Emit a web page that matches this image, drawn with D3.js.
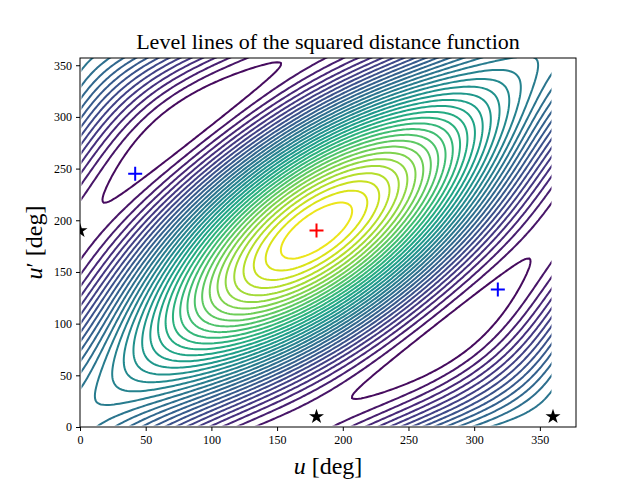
<!DOCTYPE html>
<html><head><meta charset="utf-8">
<script src="https://cdn.jsdelivr.net/npm/d3@7"></script>
<style>body{margin:0;background:#fff}text{font-family:"Liberation Serif","DejaVu Serif",serif}</style>
</head><body><svg id="c" width="640" height="480"></svg>
<script>
// model of the distance field: P cos(u-u'+10) - Q cos u - R cos(u'-10)
const coeffs = [1.0, 0.44, 0.44];
const maxPoint = [[180, 190]];
const minPoints = [[42, 245], [318, 133]];
const saddles = [[0, 190], [180, 10], [360, 10]];
const xTicks = [0, 50, 100, 150, 200, 250, 300, 350];
const yTicks = [0, 50, 100, 150, 200, 250, 300, 350];
const nLevels = 36;

const svg = d3.select("#c");
const L = 80, R = 576, T = 58, B = 427;
const x = d3.scaleLinear().domain([0, 377.5]).range([L, R]);
const y = d3.scaleLinear().domain([0, 357]).range([B, T]);

const step = 2, n = 360 / step + 1, rad = Math.PI / 180;
const vals = new Array(n * n);
for (let j = 0; j < n; j++) for (let i = 0; i < n; i++) {
  const u = i * step, v = j * step;
  vals[j * n + i] = coeffs[0] * Math.cos((u - v + 10) * rad) - coeffs[1] * Math.cos(u * rad) - coeffs[2] * Math.cos((v - 10) * rad);
}
const [lo, hi] = d3.extent(vals);
const thresholds = d3.range(1, nLevels).map(k => lo + (hi - lo) * k / nLevels);
const color = d3.scaleSequential(d3.interpolateViridis).domain([lo, hi]);
const contours = d3.contours().size([n, n]).thresholds(thresholds)(vals);

svg.append("clipPath").attr("id", "clip").append("rect")
  .attr("x", x(0) + 1.5).attr("y", y(360) + 1.5).attr("width", x(360) - x(0) - 3).attr("height", y(0) - y(360) - 3);
svg.append("clipPath").attr("id", "clip2").append("rect")
  .attr("x", L).attr("y", T).attr("width", R - L).attr("height", B - T);

const proj = d3.geoTransform({ point(px, py) {
  this.stream.point(x((px - 0.5) * step), y((py - 0.5) * step));
}});
const path = d3.geoPath(proj);
const g = svg.append("g").attr("clip-path", "url(#clip2)").append("g").attr("clip-path", "url(#clip)");
g.selectAll("path").data(contours).enter().append("path")
  .attr("d", path).attr("fill", "none").attr("stroke", d => color(d.value)).attr("stroke-width", 2);

const m = svg.append("g").attr("clip-path", "url(#clip2)");
const plus = (pts, c) => m.selectAll(null).data(pts).enter().append("path")
  .attr("d", d => `M${x(d[0]) - 7},${y(d[1])}h14M${x(d[0])},${y(d[1]) - 7}v14`)
  .attr("stroke", c).attr("stroke-width", 2);
plus(minPoints, "blue");
plus(maxPoint, "red");
m.selectAll(null).data(saddles).enter().append("path")
  .attr("d", d3.symbol(d3.symbolStar, 70)).attr("fill", "black")
  .attr("transform", d => `translate(${x(d[0])},${y(d[1])})`);

const ax = svg.append("g").attr("transform", `translate(0,${B})`)
  .call(d3.axisBottom(x).tickValues(xTicks).tickSize(4).tickPadding(4));
const ay = svg.append("g").attr("transform", `translate(${L},0)`)
  .call(d3.axisLeft(y).tickValues(yTicks).tickSize(4).tickPadding(4));
[ax, ay].forEach(a => { a.select(".domain").remove(); a.selectAll("text").attr("font-size", 12).attr("font-family", "Liberation Serif"); });
svg.append("rect").attr("x", L).attr("y", T).attr("width", R - L).attr("height", B - T)
  .attr("fill", "none").attr("stroke", "black").attr("stroke-width", 1);

svg.append("text").attr("x", (L + R) / 2).attr("y", 49).attr("text-anchor", "middle")
  .attr("font-size", 22).text("Level lines of the squared distance function");
svg.append("text").attr("x", (L + R) / 2).attr("y", 474).attr("text-anchor", "middle").attr("font-size", 24)
  .html('<tspan font-style="italic">u</tspan> [deg]');
svg.append("text").attr("transform", `translate(42,${(T + B) / 2}) rotate(-90)`).attr("text-anchor", "middle").attr("font-size", 24)
  .html('<tspan font-style="italic">u</tspan>′ [deg]');
</script></body></html>
